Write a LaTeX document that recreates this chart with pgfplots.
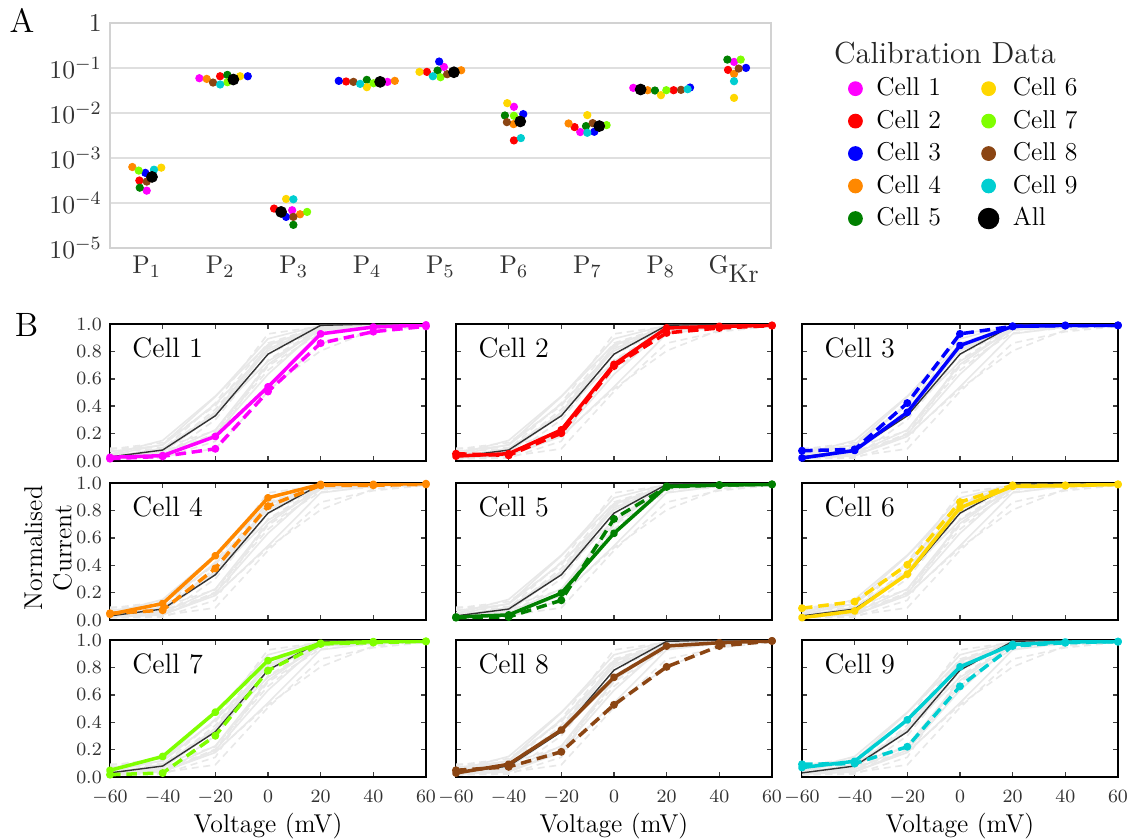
\documentclass[border=0pt]{standalone}
\usepackage{pgfplots}
\usepackage{pgfplotstable}
\pgfplotsset{compat=1.18}

\definecolor{c1}{RGB}{255,0,255}
\definecolor{c2}{RGB}{255,0,0}
\definecolor{c3}{RGB}{0,0,255}
\definecolor{c4}{RGB}{255,136,0}
\definecolor{c5}{RGB}{0,128,0}
\definecolor{c6}{RGB}{255,215,0}
\definecolor{c7}{RGB}{127,255,0}
\definecolor{c8}{RGB}{139,69,19}
\definecolor{c9}{RGB}{0,206,209}

% normalised current: s = model (solid), d = data (dashed), m = mean
\pgfplotstableread{
V   s1    s2    s3    s4    s5    s6    s7    s8    s9    d1    d2    d3    d4    d5    d6    d7    d8    d9    m
-60 0.027 0.036 0.022 0.042 0.022 0.017 0.049 0.029 0.069 0.017 0.053 0.075 0.049 0.017 0.086 0.017 0.049 0.093 0.03
-40 0.039 0.053 0.077 0.120 0.037 0.066 0.150 0.093 0.115 0.034 0.041 0.085 0.071 0.022 0.134 0.029 0.074 0.098 0.08
-20 0.179 0.227 0.355 0.469 0.196 0.335 0.473 0.343 0.417 0.089 0.203 0.423 0.377 0.144 0.403 0.301 0.184 0.221 0.33
0   0.541 0.705 0.843 0.892 0.633 0.819 0.850 0.728 0.804 0.507 0.693 0.928 0.831 0.738 0.861 0.777 0.527 0.662 0.78
20  0.928 0.971 0.983 0.990 0.976 0.976 0.976 0.956 0.968 0.860 0.935 0.983 0.983 0.971 0.983 0.971 0.804 0.956 0.99
40  0.978 0.983 0.990 0.990 0.985 0.980 0.988 0.980 0.985 0.944 0.971 0.988 0.983 0.985 0.983 0.981 0.956 0.980 1.0
60  0.993 0.990 0.990 0.995 0.990 0.990 0.990 0.993 0.988 0.983 0.988 0.990 0.990 0.990 0.990 0.990 0.993 0.988 1.0
}\curves

\pgfplotsset{
  panelB/.style={
    anchor=north west, scale only axis,
    width=4.74cm, height=2.055cm,
    xmin=-60, xmax=60, ymin=0, ymax=1,
    xtick={-60,-40,-20,0,20,40,60},
    ytick={0,0.2,0.4,0.6,0.8,1},
    yticklabel style={/pgf/number format/.cd,fixed,fixed zerofill,precision=1},
    xticklabel style={yshift=-2pt},
    xlabel style={yshift=3pt},
    tick align=inside, major tick length=2.2pt,
    tick style={black!75, line width=0.6pt},
    axis line style={line width=0.8pt},
    tick label style={font=\footnotesize, color=black!80},
    label style={font=\fontsize{11}{13}\selectfont},
  },
}

\newcommand{\cellaxis}[3]{%
\begin{axis}[panelB,#1]
\pgfplotsinvokeforeach{1,...,9}{%
  \addplot[gray!18, line width=0.7pt] table[x=V,y=s##1]{\curves};
  \addplot[gray!18, line width=0.7pt, dash pattern=on 3pt off 2pt] table[x=V,y=d##1]{\curves};
}
\addplot[black!80, line width=0.6pt] table[x=V,y=m]{\curves};
\addplot[#2, line width=1.5pt, line join=round, mark=*, mark size=0.9pt] table[x=V,y=s#3]{\curves};
\addplot[#2, line width=1.5pt, dash pattern=on 4.5pt off 2.5pt, mark=*, mark size=0.9pt, mark options={solid}] table[x=V,y=d#3]{\curves};
\node[anchor=west, font=\fontsize{12}{14}\selectfont] at (rel axis cs:0.045,0.825) {Cell #3};
\end{axis}}

\begin{document}
\begin{tikzpicture}
\path[use as bounding box] (0,0) rectangle (16.935cm,-12.585cm);

\node[font=\Large] at (0.33cm,-0.30cm) {A};
\node[font=\Large] at (0.40cm,-4.88cm) {B};

\begin{axis}[
  at={(1.65cm,-0.345cm)}, anchor=north west, scale only axis,
  width=9.915cm, height=3.375cm,
  ymode=log, ymin=1e-5, ymax=1,
  xmin=-0.5, xmax=8.5,
  xtick={0,...,8},
  xticklabels={$\mathrm{P}_1$,$\mathrm{P}_2$,$\mathrm{P}_3$,$\mathrm{P}_4$,$\mathrm{P}_5$,$\mathrm{P}_6$,$\mathrm{P}_7$,$\mathrm{P}_8$,$\mathrm{G}_{\textstyle\mathrm{Kr}}$},
  ytick={1e-5,1e-4,1e-3,1e-2,1e-1,1},
  yticklabels={$10^{-5}$,$10^{-4}$,$10^{-3}$,$10^{-2}$,$10^{-1}$,$1$},
  minor ytick={},
  ymajorgrids, grid style={gray!25, line width=0.7pt},
  axis line style={gray!35, line width=0.8pt},
  major tick length=0pt, minor tick length=0pt,
  tick label style={font=\fontsize{11}{13}\selectfont, color=black!80},
  clip=false,
  legend columns=5, transpose legend,
  legend cell align=left,
  legend image post style={mark options={scale=1.9}},
  legend style={draw=none, fill=none, at={(1.106,0.80)}, anchor=north west,
    font=\fontsize{11}{13}\selectfont, row sep=0.6pt},
  /tikz/every odd column/.append style={column sep=4pt},
  /tikz/every even column/.append style={column sep=14pt},
]
\addplot[only marks, mark=*, c1, mark size=1.55pt] coordinates {(0.000,1.88e-4) (0.717,0.0593) (1.980,6.90e-5) (3.278,0.0492) (4.046,0.1057) (5.000,0.01374) (5.903,3.77e-3) (6.625,0.0362) (7.997,0.1365)};
\addlegendentry{Cell 1}
\addplot[only marks, mark=*, c2, mark size=1.55pt] coordinates {(-0.100,3.16e-4) (0.999,0.0656) (1.734,7.52e-5) (2.715,0.0501) (3.815,0.0820) (5.000,2.46e-3) (5.826,4.86e-3) (7.174,0.0321) (7.915,0.0908)};
\addlegendentry{Cell 2}
\addplot[only marks, mark=*, c3, mark size=1.55pt] coordinates {(-0.019,4.68e-4) (1.376,0.0656) (1.898,4.91e-5) (2.615,0.0518) (3.982,0.139) (5.127,9.44e-3) (6.094,3.83e-3) (7.398,0.0368) (8.160,0.1005)};
\addlegendentry{Cell 3}
\addplot[only marks, mark=*, c4, mark size=1.55pt] coordinates {(-0.196,6.31e-4) (0.817,0.0573) (2.088,5.62e-5) (3.378,0.0518) (4.282,0.0891) (4.995,5.66e-3) (5.744,5.86e-3) (6.820,0.0321) (7.997,0.0740)};
\addlegendentry{Cell 4}
\addplot[only marks, mark=*, c5, mark size=1.55pt] coordinates {(-0.095,2.19e-4) (1.098,0.0703) (1.997,3.27e-5) (2.997,0.0545) (3.960,0.0877) (4.877,8.81e-3) (5.981,5.12e-3) (6.920,0.0316) (7.906,0.1538)};
\addlegendentry{Cell 5}
\addplot[only marks, mark=*, c6, mark size=1.55pt] coordinates {(0.198,6.10e-4) (1.271,0.0656) (1.898,1.23e-4) (2.997,0.0375) (3.714,0.0820) (4.909,0.01656) (5.999,8.97e-3) (7.002,0.0249) (7.997,0.0217)};
\addlegendentry{Cell 6}
\addplot[only marks, mark=*, c7, mark size=1.55pt] coordinates {(-0.109,5.25e-4) (1.098,0.0483) (2.184,6.34e-5) (3.088,0.0459) (4.000,0.0624) (5.000,8.67e-3) (6.262,5.38e-3) (7.075,0.0321) (8.088,0.1538)};
\addlegendentry{Cell 7}
\addplot[only marks, mark=*, c8, mark size=1.55pt] coordinates {(0.000,2.99e-4) (0.903,0.0475) (1.997,4.91e-5) (2.815,0.0492) (4.091,0.0728) (4.904,6.27e-3) (6.072,5.96e-3) (7.275,0.0327) (8.060,0.0971)};
\addlegendentry{Cell 8}
\addplot[only marks, mark=*, c9, mark size=1.55pt] coordinates {(0.099,5.50e-4) (1.000,0.0430) (1.997,1.21e-4) (2.906,0.0444) (3.896,0.0656) (5.095,2.77e-3) (5.999,3.64e-3) (7.365,0.0338) (7.997,0.0509)};
\addlegendentry{Cell 9}
\addplot[only marks, mark=*, black, mark size=2.3pt] coordinates {(0.072,3.80e-4) (1.180,0.0555) (1.830,6.34e-5) (3.178,0.0492) (4.183,0.0805) (5.086,6.49e-3) (6.162,5.12e-3) (6.725,0.0333)};
\addlegendentry{All}
\end{axis}
\node[font=\fontsize{13}{15}\selectfont, color=black!85] at (14.175cm,-0.795cm) {Calibration Data};

\node[rotate=90, align=center, font=\fontsize{11}{12.5}\selectfont] at (0.72cm,-8.22cm) {Normalised\\Current};

\cellaxis{at={(1.65cm,-4.86cm)}, xticklabels={}}{c1}{1}
\cellaxis{at={(6.84cm,-4.86cm)}, xticklabels={}, yticklabels={}}{c2}{2}
\cellaxis{at={(12.03cm,-4.86cm)}, xticklabels={}, yticklabels={}}{c3}{3}
\cellaxis{at={(1.65cm,-7.245cm)}, xticklabels={}}{c4}{4}
\cellaxis{at={(6.84cm,-7.245cm)}, xticklabels={}, yticklabels={}}{c5}{5}
\cellaxis{at={(12.03cm,-7.245cm)}, xticklabels={}, yticklabels={}}{c6}{6}
\cellaxis{at={(1.65cm,-9.6cm)}, xlabel={Voltage (mV)}}{c7}{7}
\cellaxis{at={(6.84cm,-9.6cm)}, xlabel={Voltage (mV)}, yticklabels={}}{c8}{8}
\cellaxis{at={(12.03cm,-9.6cm)}, xlabel={Voltage (mV)}, yticklabels={}}{c9}{9}
\end{tikzpicture}
\end{document}
